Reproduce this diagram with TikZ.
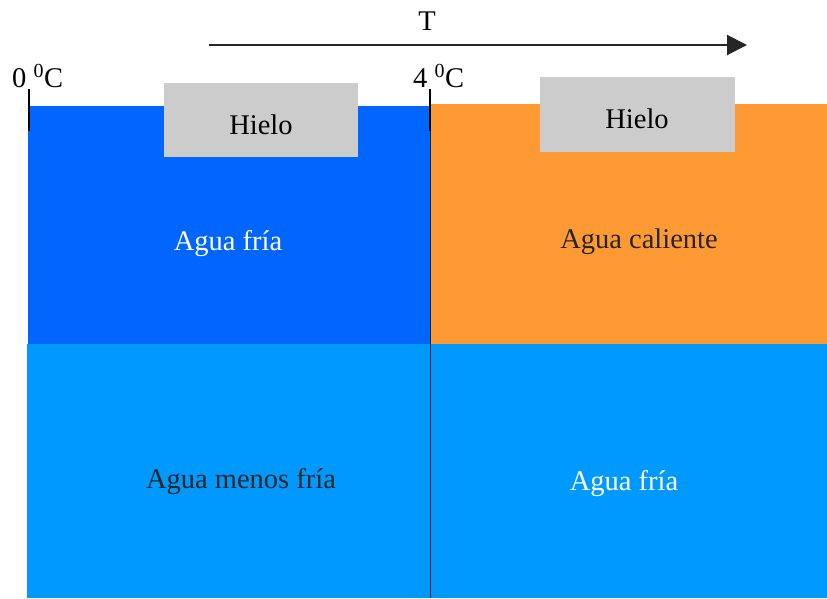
\documentclass[tikz,border=0pt]{standalone}
\usepackage{fontspec}
\setmainfont{Liberation Serif}
\usetikzlibrary{arrows.meta}
\definecolor{darkblue}{HTML}{0066FF}
\definecolor{lightblue}{HTML}{0099FF}
\definecolor{warm}{HTML}{FF9933}
\definecolor{ice}{HTML}{CCCCCC}
\begin{document}
\begin{tikzpicture}[x=1pt,y=-1pt,
  lbl/.style={font=\fontsize{28.5}{32}\selectfont, inner sep=0pt},
  icebox/.style={fill=ice, draw=none},
  tick/.style={line width=2pt, black}]
\useasboundingbox (0,0) rectangle (827,598);
\fill[white] (0,0) rectangle (827,598);
% water regions
\fill[lightblue] (27,344) rectangle (827,598);
\fill[darkblue] (28,106) rectangle (430,344);
\fill[warm] (430,104) rectangle (827,344);
% divider
\draw[line width=1pt, black!85] (430,104) -- (430,598);
% ice blocks
\fill[icebox] (164,83) rectangle (358,157);
\fill[icebox] (540,77) rectangle (735,152);
\node[lbl] (hielo1) at (261,125) {Hielo};
\node[lbl] (hielo2) at (637,119) {Hielo};
% ticks
\draw[tick] (29,89) -- (29,131);
\draw[tick] (430,89) -- (430,131);
\node[lbl, anchor=base west] (t0) at (12,87) {0 \textsuperscript{0}C};
\node[lbl, anchor=base west] (t4) at (413,87) {4 \textsuperscript{0}C};
% temperature arrow
\coordinate (as) at (209,45);
\coordinate (ae) at (747,45);
\draw[line width=2pt, black!85, -{Triangle[length=20pt,width=20pt]}] (as) -- (ae);
\node[lbl] (T) at (427,21) {T};
% labels
\node[lbl, white] (af1) at (228,244) {Agua fría};
\node[lbl, black!85] (ac) at (639,242) {Agua caliente};
\node[lbl, black!85] (amf) at (241,482) {Agua menos fría};
\node[lbl, white] (af2) at (624,484) {Agua fría};
\end{tikzpicture}
\end{document}
